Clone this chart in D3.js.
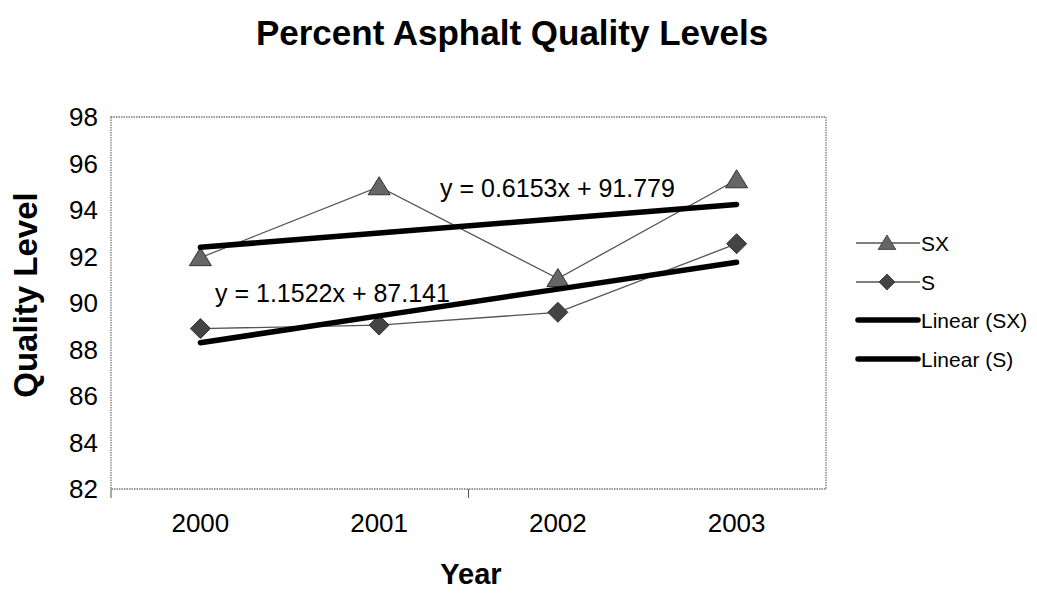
<!DOCTYPE html>
<html><head><meta charset="utf-8">
<script src="https://cdn.jsdelivr.net/npm/d3@7"></script>
<style>body{margin:0;background:#fff;font-family:"Liberation Sans",Arial,sans-serif;}</style>
</head><body>
<svg id="c" width="1037" height="604"></svg>
<script>
const years = ["2000","2001","2002","2003"];
const sxValues = [91.95, 95.0, 91.05, 95.3];
const sValues = [88.9, 89.05, 89.6, 92.55];
const trendSX = [0.6153, 91.779];
const trendS = [1.1522, 87.141];
const trendLabels = ["y = 0.6153x + 91.779", "y = 1.1522x + 87.141"];
const yTicks = [82,84,86,88,90,92,94,96,98];
const legendLabels = ["SX","S","Linear (SX)","Linear (S)"];

const svg = d3.select("#c");
const L=111, R=826, T=117, B=489;
const x = d3.scaleBand().domain(years).range([L,R]);
const y = d3.scaleLinear().domain([82,98]).range([B,T]);
const cx = d => x(d)+x.bandwidth()/2;
const dotted = "#777";

// plot frame
svg.append("rect").attr("x",L).attr("y",T).attr("width",R-L).attr("height",B-T)
  .attr("fill","none").attr("stroke",dotted).attr("stroke-width",1.3).attr("stroke-dasharray","1.5,1");

// x ticks (visible ones)
const bounds = [L, x("2002")];
svg.selectAll(".xt").data(bounds).enter().append("line")
  .attr("x1",d=>d).attr("x2",d=>d).attr("y1",B).attr("y2",B+9)
  .attr("stroke","#555").attr("stroke-width",1);

// y tick labels
svg.selectAll(".yl").data(yTicks).enter().append("text")
  .attr("x",98).attr("y",d=>y(d)).attr("dy","0.36em").attr("text-anchor","end")
  .attr("font-size",26).text(d=>d);
// x tick labels
svg.selectAll(".xl").data(years).enter().append("text")
  .attr("x",d=>cx(d)).attr("y",532).attr("text-anchor","middle")
  .attr("font-size",26).text(d=>d);

// titles
svg.append("text").attr("x",512).attr("y",45).attr("text-anchor","middle")
  .attr("font-size",35).attr("font-weight","bold").text("Percent Asphalt Quality Levels");
svg.append("text").attr("transform","translate(37,295) rotate(-90)").attr("text-anchor","middle")
  .attr("font-size",33).attr("font-weight","bold").text("Quality Level");
svg.append("text").attr("x",471).attr("y",584).attr("text-anchor","middle")
  .attr("font-size",29).attr("font-weight","bold").text("Year");

const line = d3.line().x((d,i)=>cx(years[i])).y(d=>y(d));
const triPath = "M0,-10L11,8L-11,8Z";
const diaPath = "M0,-10L10,0L0,10L-10,0Z";

function series(vals, p, fill){
  svg.append("path").attr("d",line(vals)).attr("fill","none").attr("stroke","#555").attr("stroke-width",1.3);
  svg.selectAll(null).data(vals).enter().append("path")
    .attr("d",p).attr("transform",(d,i)=>`translate(${cx(years[i])},${y(d)})`)
    .attr("fill",fill).attr("stroke","#333").attr("stroke-width",1);
}
series(sxValues, triPath, "#666");
series(sValues, diaPath, "#444");

function trend(c){
  const pts = years.map((d,i)=>c[0]*(i+1)+c[1]);
  svg.append("path").attr("d",line(pts)).attr("fill","none").attr("stroke","#000")
    .attr("stroke-width",5.5).attr("stroke-linecap","round");
}
trend(trendSX);
trend(trendS);

svg.append("text").attr("x",440).attr("y",197).attr("font-size",25).text(trendLabels[0]);
svg.append("text").attr("x",215).attr("y",302).attr("font-size",25).text(trendLabels[1]);

// legend
const ly = [243,282,320,359];
legendLabels.forEach((lab,i)=>{
  const g = svg.append("g").attr("transform",`translate(0,${ly[i]})`);
  if(i<2){
    g.append("line").attr("x1",856).attr("x2",920).attr("y1",0).attr("y2",0).attr("stroke","#555").attr("stroke-width",1.3);
    g.append("path").attr("d",i===0?triPath:diaPath).attr("transform","translate(887,0) scale(0.8)")
      .attr("fill",i===0?"#666":"#444").attr("stroke","#333").attr("stroke-width",1);
  } else {
    g.append("line").attr("x1",858).attr("x2",918).attr("y1",0).attr("y2",0).attr("stroke","#000")
      .attr("stroke-width",5.5).attr("stroke-linecap","round");
  }
  g.append("text").attr("x",921).attr("y",0).attr("dy","0.36em").attr("font-size",21).text(lab);
});
</script>
</body></html>
